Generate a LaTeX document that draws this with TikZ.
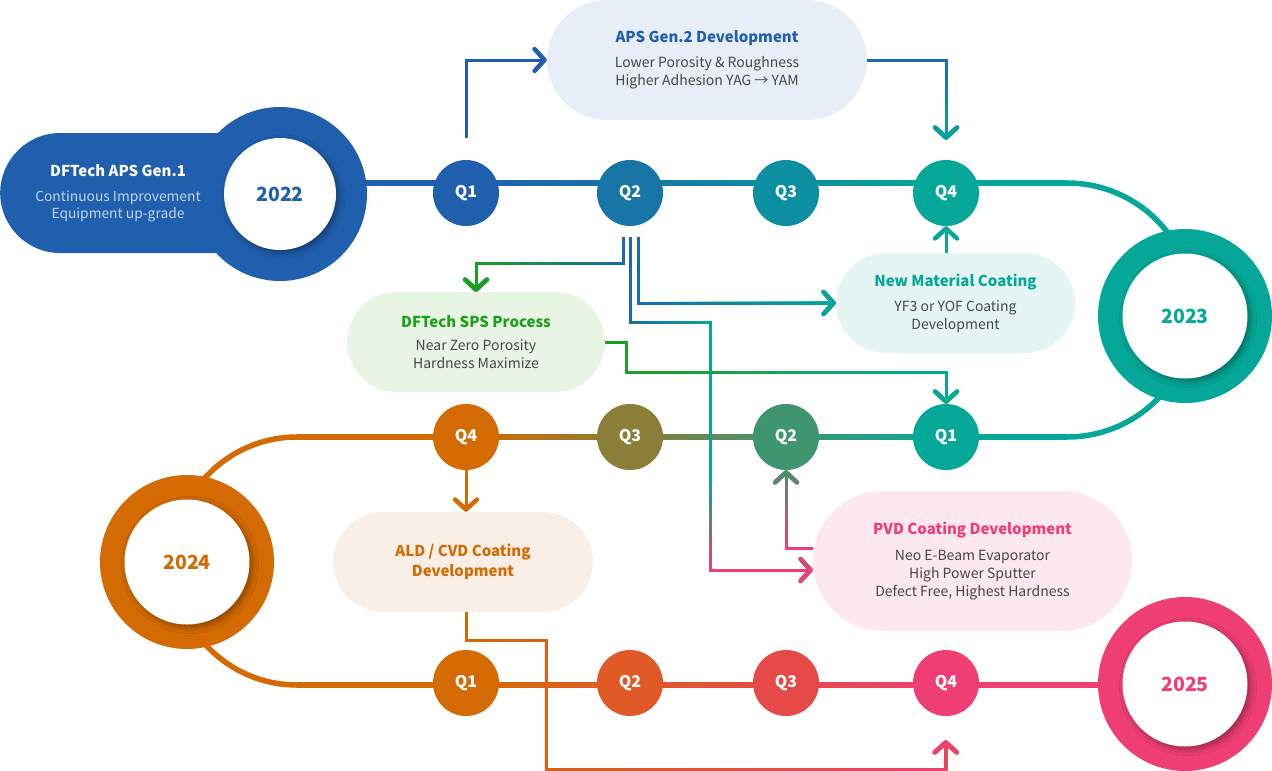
\documentclass[tikz,border=0pt]{standalone}
\usepackage{fontspec}
\setmainfont{Noto Sans CJK KR}
\usetikzlibrary{arrows.meta,calc,fadings,shadows.blur}
\definecolor{cBlue}{HTML}{1F5FAD}
\definecolor{cQtwoT}{HTML}{1776A6}
\definecolor{cQthreeT}{HTML}{0C8FA0}
\definecolor{cTeal}{HTML}{05A898}
\definecolor{cQtwoM}{HTML}{3E9570}
\definecolor{cQthreeM}{HTML}{8A7E38}
\definecolor{cOrange}{HTML}{D46A02}
\definecolor{cQtwoB}{HTML}{E05A28}
\definecolor{cQthreeB}{HTML}{E64A48}
\definecolor{cPink}{HTML}{EF3E74}
\definecolor{cGreen}{HTML}{1CA01C}
\definecolor{cLink}{HTML}{1A6BA9}
\definecolor{cText}{HTML}{474747}
\definecolor{cSub}{HTML}{C2D3EC}
\definecolor{bgAPS}{HTML}{E8EEF8}
\definecolor{bgNM}{HTML}{E5F5F3}
\definecolor{bgSPS}{HTML}{E8F5E5}
\definecolor{bgPVD}{HTML}{FDE8EF}
\definecolor{bgALD}{HTML}{F9EFE6}
\tikzfading[name=fadeR, left color=transparent!100, right color=transparent!0]
\tikzfading[name=fadeL, left color=transparent!0, right color=transparent!100]
\tikzfading[name=fadeD, top color=transparent!100, bottom color=transparent!0]
\tikzfading[name=fadeU, top color=transparent!0, bottom color=transparent!100]
\pgfdeclarelayer{bg}
\pgfsetlayers{bg,main}
\newcommand\mytitle{\fontsize{15}{18}\selectfont\bfseries}
\begin{document}
\begin{tikzpicture}[x=1pt,y=-1pt,
  qnode/.style={circle, minimum size=66pt, inner sep=0pt, text=white, font=\fontsize{16}{16}\selectfont\bfseries},
  ringout/.style={circle, minimum size=174pt, inner sep=0pt},
  ringin/.style={circle, fill=white, minimum size=125pt, inner sep=0pt,
     font=\fontsize{19.5}{20}\selectfont\bfseries,
     blur shadow={shadow xshift=3pt, shadow yshift=-3pt, shadow blur radius=6pt, shadow opacity=35}},
  pill/.style={rectangle, inner sep=0pt, align=center, text=cText, font=\fontsize{14}{18}\selectfont},
  conn/.style={line width=3pt, -{Straight Barb[length=10pt,width=22pt,line width=4.5pt,round]}},
]
\useasboundingbox (0,0) rectangle (1272,771);

% ---- 2022 pill and ring
\node[rectangle, fill=cBlue, rounded corners=60pt, minimum width=340pt, minimum height=120pt, inner sep=0pt, anchor=west] (gen1) at (0,193) {};
\node[ringout, fill=cBlue] (r22) at (280,194) {};
\node[ringin, text=cBlue, minimum size=112pt] (y22) at (280,194) {2022};
\node[align=center, text=cSub, font=\fontsize{13.8}{17}\selectfont] (gen1txt) at (118,193)
  {{\mytitle\color{white}DFTech APS Gen.1}\\[8pt]Continuous Improvement\\Equipment up-grade};

% ---- rings
\node[ringout, fill=cTeal] (r23) at (1185,316) {};
\node[ringin, text=cTeal] (y23) at (1185,316) {2023};
\node[ringout, fill=cOrange] (r24) at (187,562) {};
\node[ringin, text=cOrange] (y24) at (187,562) {2024};
\node[ringout, fill=cPink] (r25) at (1185,684) {};
\node[ringin, text=cPink] (y25) at (1185,684) {2025};

% ---- callout boxes
\node[pill, fill=bgAPS, minimum width=320pt, minimum height=120pt, rounded corners=60pt] (aps) at (707,60)
  {{\mytitle\color{cBlue}APS Gen.2 Development}\\[7pt]Lower Porosity \& Roughness\\Higher Adhesion YAG → YAM};
\node[pill, fill=bgNM, minimum width=239pt, minimum height=100pt, rounded corners=50pt] (nm) at (955.5,303)
  {{\mytitle\color{cTeal}New Material Coating}\\[7pt]YF3 or YOF Coating\\Development};
\node[pill, fill=bgSPS, minimum width=258pt, minimum height=100pt, rounded corners=50pt] (sps) at (476,342)
  {{\mytitle\color{cGreen}DFTech SPS Process}\\[5pt]Near Zero Porosity\\Hardness Maximize};
\node[pill, fill=bgPVD, minimum width=319pt, minimum height=140pt, rounded corners=70pt] (pvd) at (972.5,561)
  {{\mytitle\color{cPink}PVD Coating Development}\\[8pt]Neo E-Beam Evaporator\\High Power Sputter\\Defect Free, Highest Hardness};
\node[pill, fill=bgALD, minimum width=260pt, minimum height=100pt, rounded corners=50pt, font=\fontsize{15}{20}\selectfont\bfseries, text=cOrange] (ald) at (463,562)
  {ALD / CVD Coating\\Development};

% ---- quarter nodes
\node[qnode, fill=cBlue] (q1t) at (466,193) {Q1};
\node[qnode, fill=cQtwoT] (q2t) at (630,193) {Q2};
\node[qnode, fill=cQthreeT] (q3t) at (786,193) {Q3};
\node[qnode, fill=cTeal] (q4t) at (946,193) {Q4};
\node[qnode, fill=cTeal] (q1m) at (946,437) {Q1};
\node[qnode, fill=cQtwoM] (q2m) at (786,437) {Q2};
\node[qnode, fill=cQthreeM] (q3m) at (630,437) {Q3};
\node[qnode, fill=cOrange] (q4m) at (466,437) {Q4};
\node[qnode, fill=cOrange] (q1b) at (466,683) {Q1};
\node[qnode, fill=cQtwoB] (q2b) at (630,683) {Q2};
\node[qnode, fill=cQthreeB] (q3b) at (786,683) {Q3};
\node[qnode, fill=cPink] (q4b) at (946,683) {Q4};

% ---- track
\begin{pgfonlayer}{bg}
\fill[cBlue] (280,180.25) rectangle (466,185.75);
\shade[left color=cBlue,right color=cQtwoT] (466,180.25) rectangle (630,185.75);
\shade[left color=cQtwoT,right color=cQthreeT] (630,180.25) rectangle (786,185.75);
\shade[left color=cQthreeT,right color=cTeal] (786,180.25) rectangle (946,185.75);
\fill[cTeal] (946,180.25) rectangle (1067,185.75);
\draw[cTeal, line width=5.5pt] (1067,183) arc[start angle=-90, end angle=90, radius=127];
\fill[cTeal] (946,434.25) rectangle (1067,439.75);
\shade[left color=cQtwoM,right color=cTeal] (786,434.25) rectangle (946,439.75);
\shade[left color=cQthreeM,right color=cQtwoM] (630,434.25) rectangle (786,439.75);
\shade[left color=cOrange,right color=cQthreeM] (466,434.25) rectangle (630,439.75);
\fill[cOrange] (297,434.25) rectangle (466,439.75);
\draw[cOrange, line width=5.5pt] (297,437) arc[start angle=270, end angle=90, radius=124];
\fill[cOrange] (297,682.25) rectangle (466,687.75);
\shade[left color=cOrange,right color=cQtwoB] (466,682.25) rectangle (630,687.75);
\shade[left color=cQtwoB,right color=cQthreeB] (630,682.25) rectangle (786,687.75);
\shade[left color=cQthreeB,right color=cPink] (786,682.25) rectangle (946,687.75);
\fill[cPink] (946,682.25) rectangle (1185,687.75);
\end{pgfonlayer}

% ---- connectors
\coordinate (q1tUp) at ($(q1t.north)+(0,-22)$);
\draw[conn, cBlue] (q1tUp) |- (aps.west);

\coordinate (q4tIn) at ($(q4t.north)+(0,-20)$);
\draw[conn, cLink] (aps.east) -| (q4tIn);
\draw[conn, cTeal, path fading=fadeD] (aps.east) -| (q4tIn);

\coordinate (q2a) at ($(q2t.south)+(-7,11)$);
\coordinate (q2b) at ($(q2t.south)+(0.5,11)$);
\coordinate (q2c) at ($(q2t.south)+(8,11)$);

\draw[conn, cLink] (q2a) -- ++(0,26) -| (sps.north);
\draw[conn, cGreen, path fading=fadeL] (q2a) -- ++(0,26) -| (sps.north);

\draw[conn, cLink] (q2c) |- (nm.west);
\draw[conn, cTeal, path fading=fadeR] (q2c) |- (nm.west);

\coordinate (pvdbend) at ($(q2b)+(80,85)$);
\coordinate (pvdmid) at ($(pvdbend)+(0,158)$);
\coordinate (pvdIn) at ($(pvd.west)+(0,9)$);
\draw[line width=3pt, cLink] (q2b) |- (pvdbend) -- (pvdmid);
\draw[line width=3pt, cTeal, path fading=fadeR] (q2b) |- (pvdbend) -- (pvdmid);
\draw[conn, cTeal] (pvdmid) |- (pvdIn);
\draw[conn, cPink, path fading=fadeD] (pvdmid) |- (pvdIn);

\coordinate (q1mAbove) at ($(q1m.north)+(0,-31)$);
\draw[conn, cGreen] (sps.east) -- ++(21,0) |- (q1mAbove) -- (q1m.north);
\draw[conn, cTeal, path fading=fadeR] (sps.east) -- ++(21,0) |- (q1mAbove) -- (q1m.north);

\draw[conn, cTeal] (q4t.south |- nm.north) -- (q4t.south);

\draw[conn, cOrange] (q4m.south) -- (q4m.south |- ald.north);

\coordinate (pvdOut) at ($(pvd.west)+(0,-13)$);
\draw[conn, cPink] (pvdOut) -| (q2m.south);
\draw[conn, cQtwoM, path fading=fadeU] (pvdOut) -| (q2m.south);

\coordinate (aldOut) at (q4m.south |- ald.south);
\coordinate (q4bIn) at ($(q4b.south)+(0,24)$);
\draw[conn, cOrange] (aldOut) -- ++(0,28) -- ++(80,0) |- ($(q4bIn)+(0,29)$) -- (q4bIn);
\draw[conn, cPink, path fading=fadeR] (aldOut) -- ++(0,28) -- ++(80,0) |- ($(q4bIn)+(0,29)$) -- (q4bIn);
\end{tikzpicture}
\end{document}
